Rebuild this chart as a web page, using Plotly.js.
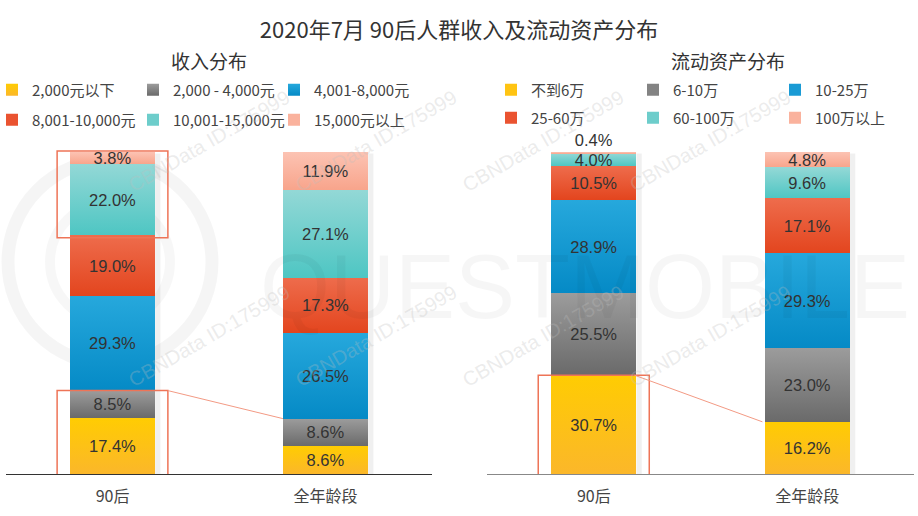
<!DOCTYPE html>
<html><head><meta charset="utf-8">
<script src="https://cdn.plot.ly/plotly-3.0.1.min.js"></script>
<style>html,body{margin:0;padding:0;background:#fff}#chart{width:918px;height:516px}</style>
</head><body><div id="chart"></div>
<script>
// ---------- data ----------
const categories = ['90后', '全年龄段'];

const incomeLabels = ['2,000元以下', '2,000 - 4,000元', '4,001-8,000元', '8,001-10,000元', '10,001-15,000元', '15,000元以上'];
const incomeBelow2k   = [17.4, 8.6];
const income2kTo4k    = [8.5, 8.6];
const income4kTo8k    = [29.3, 26.5];
const income8kTo10k   = [19.0, 17.3];
const income10kTo15k  = [22.0, 27.1];
const incomeAbove15k  = [3.8, 11.9];

const assetLabels = ['不到6万', '6-10万', '10-25万', '25-60万', '60-100万', '100万以上'];
const assetBelow6w    = [30.7, 16.2];
const asset6To10w     = [25.5, 23.0];
const asset10To25w    = [28.9, 29.3];
const asset25To60w    = [10.5, 17.1];
const asset60To100w   = [4.0, 9.6];
const assetAbove100w  = [0.4, 4.8];

const mainTitle = '2020年7月 90后人群收入及流动资产分布';
const leftTitle = '收入分布';
const rightTitle = '流动资产分布';
const watermarkText = 'CBNData ID:175999';

// ---------- styles ----------
const colors = ['#FFC412', '#838383', '#1A9BD5', '#EA5330', '#6DCDCB', '#FAB29D'];
const gradTop = ['#FFCC02', '#9C9C9C', '#26A8DC', '#EE6C4C', '#93D8D6', '#FCC3B3'];
const gradBottom = ['#FBB72A', '#6A6A6A', '#058AC6', '#E3451E', '#4EC6C3', '#F8A48B'];
const CJK = '"Noto Sans CJK SC", "Microsoft YaHei", sans-serif';
const NUM = '"Liberation Sans", Arial, sans-serif';
const W = 918, H = 516, MT = 20, MB = 42;
const BASE = H - MB;            // pixel of 0%
const PX100 = 322;              // pixels for 100%
const yTop = 100 * (BASE - MT) / PX100;
const fx = p => p / W;
const fy = p => (BASE - p) / (BASE - MT);

const incomeSeries = [incomeBelow2k, income2kTo4k, income4kTo8k, income8kTo10k, income10kTo15k, incomeAbove15k];
const assetSeries = [assetBelow6w, asset6To10w, asset10To25w, asset25To60w, asset60To100w, assetAbove100w];

const traces = [];
function addSeries(seriesList, labels, xa, ya, legA, legB) {
  seriesList.forEach((vals, i) => {
    const isTop = i === seriesList.length - 1;
    traces.push({
      type: 'bar', x: categories, y: vals, name: labels[i],
      xaxis: xa, yaxis: ya, width: 0.4,
      legend: i < 3 ? legA : legB,
      marker: {color: colors[i], line: {width: 0}},
      texttemplate: '%{y:.1f}%',
      textposition: vals.map(v => (isTop && v < 2) ? 'outside' : 'inside'),
      insidetextanchor: 'middle',
      constraintext: 'none',
      cliponaxis: false,
      textfont: {family: NUM, size: 16.5, color: '#333'},
      outsidetextfont: {family: NUM, size: 16.5, color: '#333'},
      hovertemplate: '%{x} ' + labels[i] + ': %{y:.1f}%<extra></extra>'
    });
  });
}
addSeries(incomeSeries, incomeLabels, 'x', 'y', 'legend', 'legend2');
addSeries(assetSeries, assetLabels, 'x2', 'y2', 'legend3', 'legend4');

const sum = (series, idx, n) => series.slice(0, n).reduce((a, s) => a + s[idx], 0);

const shapes = [];
// bar side shadows
[['x', 'y'], ['x2', 'y2']].forEach(([xa, ya], k) => {
  const ser = k === 0 ? incomeSeries : assetSeries;
  categories.forEach((c, i) => {
    const total = sum(ser, i, ser.length);
    shapes.push({type: 'rect', xref: xa, yref: ya, x0: i + 0.2, x1: i + 0.225, y0: 0, y1: total - 0.5,
      fillcolor: 'rgba(0,0,0,0.06)', line: {width: 0}, layer: 'below'});
  });
});
const hl = '#EE7457';
// left: top highlight (10,001+), bottom highlight (<=4,000)
shapes.push({type: 'rect', xref: 'x', yref: 'y', x0: -0.26, x1: 0.26,
  y0: sum(incomeSeries, 0, 4) - 0.8, y1: sum(incomeSeries, 0, 6) + 0.3, line: {color: hl, width: 1.5}});
shapes.push({type: 'rect', xref: 'x', yref: 'y', x0: -0.26, x1: 0.26,
  y0: -0.3, y1: sum(incomeSeries, 0, 2), line: {color: hl, width: 1.5}});
shapes.push({type: 'line', xref: 'x', yref: 'y', x0: 0.26, y0: sum(incomeSeries, 0, 2),
  x1: 0.8, y1: sum(incomeSeries, 1, 2), line: {color: '#F39A84', width: 1}});
// right: bottom highlight (<6万)
shapes.push({type: 'rect', xref: 'x2', yref: 'y2', x0: -0.26, x1: 0.26,
  y0: -0.3, y1: sum(assetSeries, 0, 1), line: {color: hl, width: 1.5}});
shapes.push({type: 'line', xref: 'x2', yref: 'y2', x0: 0.19, y0: sum(assetSeries, 0, 1),
  x1: 0.79, y1: sum(assetSeries, 1, 1), line: {color: '#F39A84', width: 1}});
// faint logo rings (watermark)
shapes.push({type: 'circle', xref: 'paper', yref: 'paper', x0: fx(8), x1: fx(212), y0: fy(364), y1: fy(160),
  line: {color: 'rgba(0,0,0,0.04)', width: 13}, layer: 'below'});
shapes.push({type: 'circle', xref: 'paper', yref: 'paper', x0: fx(50), x1: fx(170), y0: fy(322), y1: fy(202),
  line: {color: 'rgba(0,0,0,0.03)', width: 10}, layer: 'below'});

const annotations = [
  {text: leftTitle, xref: 'paper', yref: 'paper', x: fx(209), y: fy(60), showarrow: false,
   font: {family: CJK, size: 19, color: '#333'}, xanchor: 'center', yanchor: 'middle'},
  {text: rightTitle, xref: 'paper', yref: 'paper', x: fx(728), y: fy(60), showarrow: false,
   font: {family: CJK, size: 19, color: '#333'}, xanchor: 'center', yanchor: 'middle'},
  {text: 'QUESTMOBILE', xref: 'paper', yref: 'paper', x: fx(585), y: fy(287), showarrow: false,
   font: {family: NUM, size: 90, color: 'rgba(0,0,0,0.035)'}, xanchor: 'center', yanchor: 'middle'}
];
const wmX = [209, 376, 543, 710];
const wmY = [141, 336];
wmY.forEach(yy => wmX.forEach(xx => annotations.push({
  text: watermarkText, xref: 'paper', yref: 'paper', x: fx(xx), y: fy(yy), showarrow: false,
  textangle: -30, font: {family: NUM, size: 20, color: 'rgba(190,190,190,0.3)'},
  xanchor: 'center', yanchor: 'middle'
})));

const legendBase = {orientation: 'h', xanchor: 'left', yanchor: 'middle', entrywidthmode: 'pixels',
  font: {family: CJK, size: 15, color: '#444'}, bgcolor: 'rgba(0,0,0,0)', traceorder: 'normal',
  itemclick: false, itemdoubleclick: false};

const xBase = {type: 'category', range: [-0.5, 1.5], showline: true, linewidth: 1, ticks: '',
  showgrid: false, zeroline: false, fixedrange: true, ticklabelstandoff: 8,
  tickfont: {family: CJK, size: 16, color: '#444'}};
const yBase = {range: [0, yTop], visible: false, fixedrange: true};

const layout = {
  width: W, height: H,
  margin: {l: 0, r: 0, t: MT, b: MB, autoexpand: false},
  paper_bgcolor: '#fff', plot_bgcolor: 'rgba(0,0,0,0)',
  barmode: 'stack',
  title: {text: mainTitle, x: 0.5, xanchor: 'center', y: 1 - 30 / H, yanchor: 'middle', yref: 'container',
    font: {family: CJK, size: 22, color: '#333'}},
  xaxis: Object.assign({}, xBase, {domain: [6 / W, 432 / W], anchor: 'y', linecolor: '#333'}),
  yaxis: Object.assign({}, yBase, {anchor: 'x'}),
  xaxis2: Object.assign({}, xBase, {domain: [487 / W, 914 / W], anchor: 'y2', linecolor: '#888'}),
  yaxis2: Object.assign({}, yBase, {anchor: 'x2'}),
  legend: Object.assign({}, legendBase, {x: fx(-8), y: fy(90), entrywidth: 96}),
  legend2: Object.assign({}, legendBase, {x: fx(-8), y: fy(120), entrywidth: 96}),
  legend3: Object.assign({}, legendBase, {x: fx(491), y: fy(90), entrywidth: 97}),
  legend4: Object.assign({}, legendBase, {x: fx(491), y: fy(118), entrywidth: 97}),
  shapes: shapes,
  annotations: annotations,
  showlegend: true
};

function hexToRgb(h) {
  const n = parseInt(h.slice(1), 16);
  return 'rgb(' + (n >> 16) + ', ' + ((n >> 8) & 255) + ', ' + (n & 255) + ')';
}

function applyGradients(gd) {
  const svg = gd.querySelector('svg.main-svg');
  if (!svg) return;
  const ns = 'http://www.w3.org/2000/svg';
  let defs = svg.querySelector('defs');
  if (!defs) { defs = document.createElementNS(ns, 'defs'); svg.insertBefore(defs, svg.firstChild); }
  colors.forEach((c, i) => {
    const g = document.createElementNS(ns, 'linearGradient');
    g.setAttribute('id', 'segGrad' + i);
    g.setAttribute('x1', '0'); g.setAttribute('y1', '0'); g.setAttribute('x2', '0'); g.setAttribute('y2', '1');
    [[0, gradTop[i]], [1, gradBottom[i]]].forEach(([o, col]) => {
      const s = document.createElementNS(ns, 'stop');
      s.setAttribute('offset', String(o)); s.setAttribute('stop-color', col);
      g.appendChild(s);
    });
    defs.appendChild(g);
  });
  const map = {};
  colors.forEach((c, i) => { map[hexToRgb(c)] = i; });
  gd.querySelectorAll('.barlayer path, .legend .legendpoints path').forEach(p => {
    const f = p.style.fill;
    if (f in map) p.style.fill = 'url(#segGrad' + map[f] + ')';
  });
}

Plotly.newPlot('chart', traces, layout, {displayModeBar: false, responsive: false})
  .then(gd => applyGradients(gd));
</script>
</body></html>
